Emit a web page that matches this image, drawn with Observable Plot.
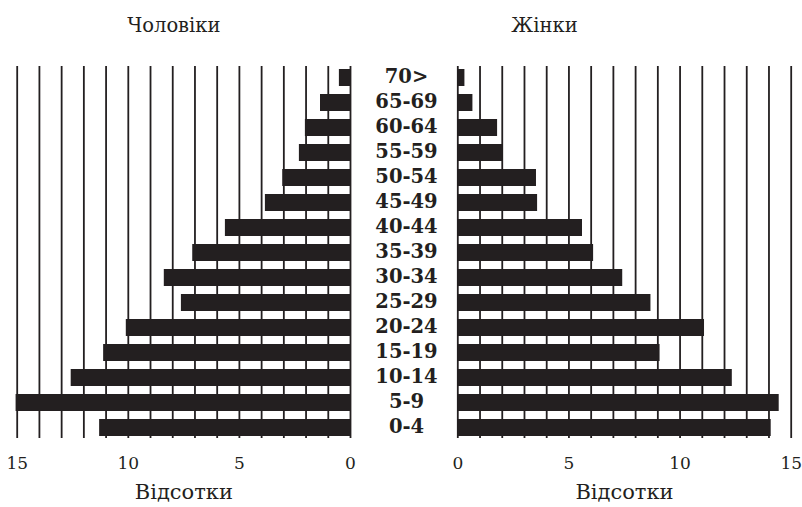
<!DOCTYPE html>
<html>
<head>
<meta charset="utf-8">
<script src="https://cdn.jsdelivr.net/npm/d3@7"></script>
<script src="https://cdn.jsdelivr.net/npm/@observablehq/plot@0.6"></script>
<style>
  html, body { margin: 0; padding: 0; background: #fff; }
  #wrap { display: flex; width: 802px; height: 507px; }
  #wrap svg { overflow: visible; }
</style>
</head>
<body>
<div id="wrap"></div>
<script>
const ages = ["70>","65-69","60-64","55-59","50-54","45-49","40-44","35-39","30-34","25-29","20-24","15-19","10-14","5-9","0-4"];
const male = [0.5,1.35,2.03,2.3,3.05,3.83,5.63,7.1,8.38,7.61,10.09,11.11,12.57,15.05,11.29];
const female = [0.32,0.68,1.79,2.03,3.54,3.59,5.61,6.11,7.42,8.69,11.1,9.1,12.35,14.46,14.1];
const gridValues = d3.range(0, 16);
const tickValues = [0, 5, 10, 15];
const titles = ["Чоловіки", "Жінки"];
const axisLabel = "Відсотки";

const ink = "#231f20";
const serif = "'DejaVu Serif', serif";
const maleData = ages.map((a, i) => ({age: a, value: male[i]}));
const femaleData = ages.map((a, i) => ({age: a, value: female[i]}));

const common = {
  height: 507,
  marginTop: 66,
  marginBottom: 69,
  style: {fontFamily: serif, fontSize: "16px", color: ink, background: "transparent", overflow: "visible"},
  y: {domain: ages, paddingInner: 0.33, paddingOuter: 0, axis: null}
};

const left = Plot.plot({
  ...common,
  width: 402,
  marginLeft: 16.7,
  marginRight: 52,
  x: {domain: [15, 0], axis: null},
  marks: [
    Plot.ruleX(gridValues, {stroke: ink, strokeWidth: 1.8}),
    Plot.barX(maleData, {x: "value", y: "age", fill: ink}),
    Plot.axisX({ticks: tickValues, tickSize: 0, tickPadding: 18, fontSize: 17, label: null, fill: ink}),
    Plot.text(ages, {x: () => 0, y: d => d, dx: 56, dy: -1, fontSize: 19.5, fontWeight: "bold", fill: ink, fontFamily: serif}),
    Plot.text([titles[0]], {frameAnchor: "top", dy: -48, dx: -10, fontSize: 19.5, fill: ink}),
    Plot.text([axisLabel], {frameAnchor: "bottom", dy: 60, fontSize: 21, fill: ink})
  ]
});

const right = Plot.plot({
  ...common,
  width: 400,
  marginLeft: 55.3,
  marginRight: 11.3,
  x: {domain: [0, 15], axis: null},
  marks: [
    Plot.ruleX(gridValues, {stroke: ink, strokeWidth: 1.8}),
    Plot.barX(femaleData, {x: "value", y: "age", fill: ink}),
    Plot.axisX({ticks: tickValues, tickSize: 0, tickPadding: 18, fontSize: 17, label: null, fill: ink}),
    Plot.text([titles[1]], {frameAnchor: "top", dy: -48, dx: -80, fontSize: 19.5, fill: ink}),
    Plot.text([axisLabel], {frameAnchor: "bottom", dy: 60, fontSize: 21, fill: ink})
  ]
});

const wrap = document.getElementById("wrap");
wrap.appendChild(left);
wrap.appendChild(right);
</script>
</body>
</html>
